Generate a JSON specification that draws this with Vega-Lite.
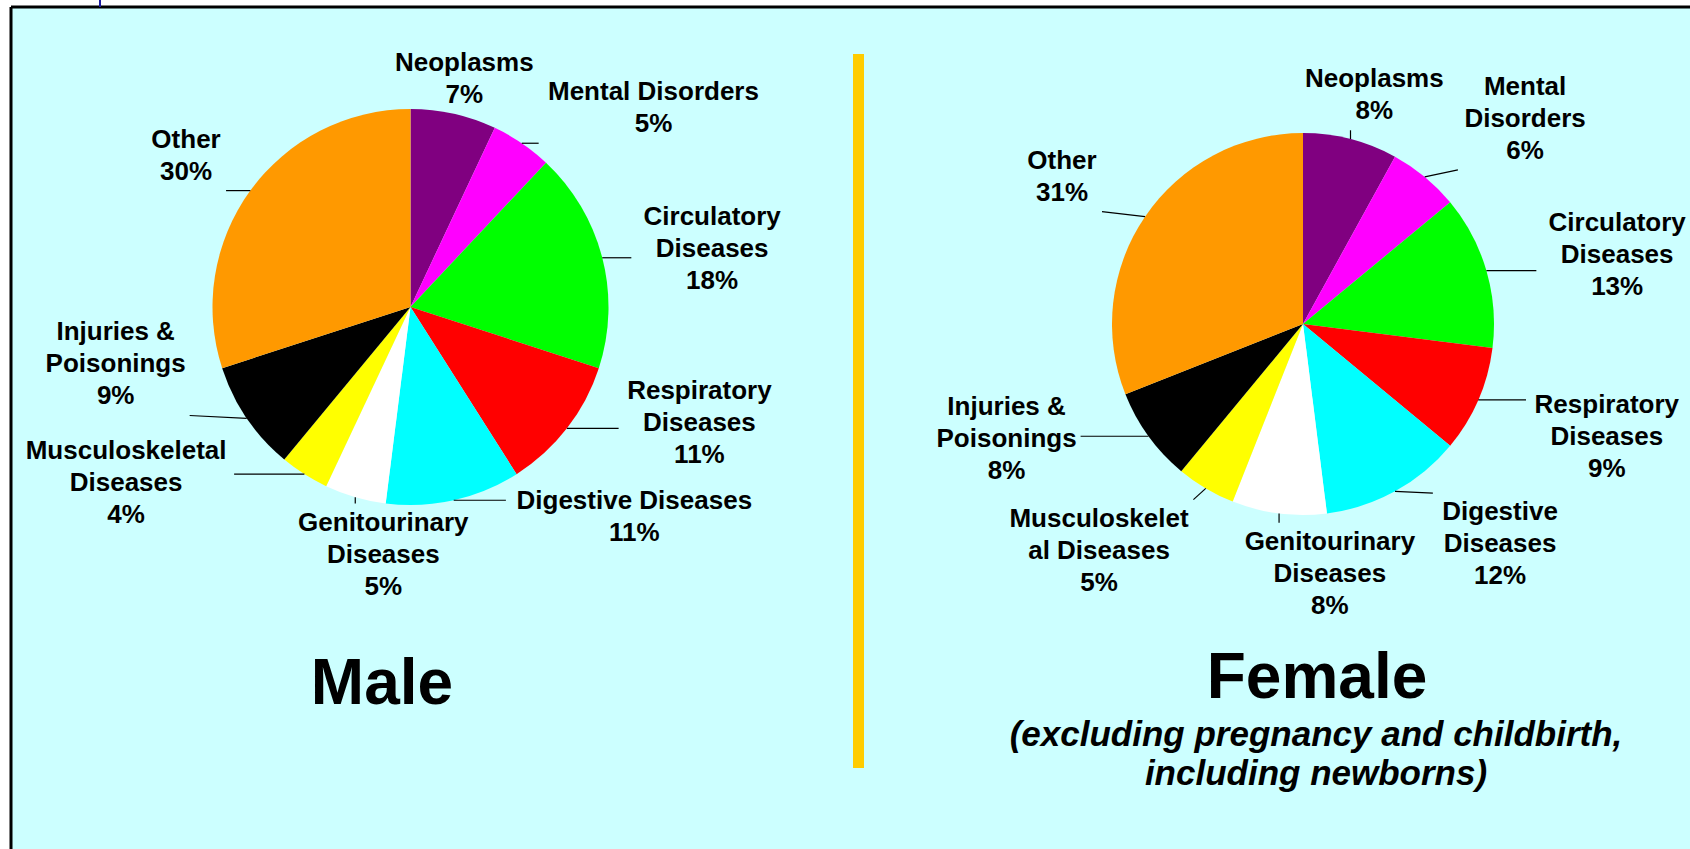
{
  "$schema": "https://vega.github.io/schema/vega-lite/v6.json",
  "width": 1679,
  "height": 842,
  "padding": {"left": 11, "top": 7, "right": 0, "bottom": 0},
  "autosize": {"type": "none"},
  "background": "white",
  "config": {"view": {"fill": "#CCFFFF", "stroke": null}, "font": "Liberation Sans"},
  "resolve": {"scale": {"x": "independent", "y": "independent"}},
  "datasets": {
    "causes": [
      {"sex": "Male", "cause": "Neoplasms", "label": "Neoplasms", "value": 7},
      {"sex": "Male", "cause": "Mental Disorders", "label": "Mental Disorders", "value": 5},
      {"sex": "Male", "cause": "Circulatory Diseases", "label": "Circulatory|Diseases", "value": 18},
      {"sex": "Male", "cause": "Respiratory Diseases", "label": "Respiratory|Diseases", "value": 11},
      {"sex": "Male", "cause": "Digestive Diseases", "label": "Digestive Diseases", "value": 11},
      {"sex": "Male", "cause": "Genitourinary Diseases", "label": "Genitourinary|Diseases", "value": 5},
      {"sex": "Male", "cause": "Musculoskeletal Diseases", "label": "Musculoskeletal|Diseases", "value": 4},
      {"sex": "Male", "cause": "Injuries & Poisonings", "label": "Injuries &|Poisonings", "value": 9},
      {"sex": "Male", "cause": "Other", "label": "Other", "value": 30},
      {"sex": "Female", "cause": "Neoplasms", "label": "Neoplasms", "value": 8},
      {"sex": "Female", "cause": "Mental Disorders", "label": "Mental|Disorders", "value": 6},
      {"sex": "Female", "cause": "Circulatory Diseases", "label": "Circulatory|Diseases", "value": 13},
      {"sex": "Female", "cause": "Respiratory Diseases", "label": "Respiratory|Diseases", "value": 9},
      {"sex": "Female", "cause": "Digestive Diseases", "label": "Digestive|Diseases", "value": 12},
      {"sex": "Female", "cause": "Genitourinary Diseases", "label": "Genitourinary|Diseases", "value": 8},
      {"sex": "Female", "cause": "Musculoskeletal Diseases", "label": "Musculoskelet|al Diseases", "value": 5},
      {"sex": "Female", "cause": "Injuries & Poisonings", "label": "Injuries &|Poisonings", "value": 8},
      {"sex": "Female", "cause": "Other", "label": "Other", "value": 31}
    ],
    "panels": [
      {"sex": "Male", "title": "Male", "note": ""},
      {"sex": "Female", "title": "Female", "note": "(excluding pregnancy and childbirth,|including newborns)"}
    ]
  },
  "layer": [
    {
      "data": {"name": "causes"},
      "transform": [
        {"window": [{"op": "row_number", "as": "k"}], "groupby": ["sex"]},
        {"stack": "value", "groupby": ["sex"], "sort": [{"field": "k", "order": "ascending"}], "as": ["v0", "v1"]},
        {"calculate": "datum.v0/100*2*PI", "as": "a0"},
        {"calculate": "datum.v1/100*2*PI", "as": "a1"},
        {"calculate": "(datum.a0+datum.a1)/2", "as": "mid"},
        {"calculate": "datum.sex=='Male'?198:191", "as": "pr"},
        {"calculate": "datum.sex=='Male'?228:243", "as": "rx"},
        {"calculate": "datum.sex=='Male'?198:200", "as": "ry"},
        {"calculate": "datum.label + '|' + datum.value + '%'", "as": "txt"},
        {"calculate": "length(split(datum.txt,'|'))", "as": "nl"},
        {"calculate": "max(length(split(datum.txt+'||','|')[0]), length(split(datum.txt+'||','|')[1]), length(split(datum.txt+'||','|')[2]))", "as": "mc"},
        {"calculate": "datum.mc*13.6+12", "as": "w"},
        {"calculate": "datum.nl*32+6", "as": "h"},
        {"window": [{"op": "lag", "field": "w", "param": 1, "as": "pw"}, {"op": "lag", "field": "h", "param": 1, "as": "ph"}, {"op": "lead", "field": "w", "param": 1, "as": "nw"}, {"op": "lead", "field": "h", "param": 1, "as": "nh"}], "groupby": ["sex"], "sort": [{"field": "k", "order": "ascending"}], "frame": [null, null]},
        {"calculate": "datum.mid", "as": "th0"},

        {"calculate": "datum.rx*sin(datum.th0)+datum.w/2*clamp((abs(sin(datum.th0))-0.2)*3.33,0,1)*(sin(datum.th0)<0?-1:1)", "as": "cx0"},
        {"calculate": "-datum.ry*cos(datum.th0)-datum.h/2*clamp((abs(cos(datum.th0))-0.2)*3.33,0,1)*(cos(datum.th0)<0?-1:1)", "as": "cy0"},
        {"window": [{"op": "lag", "field": "cx0", "param": 1, "as": "px0"}, {"op": "lag", "field": "cy0", "param": 1, "as": "py0"}, {"op": "lead", "field": "cx0", "param": 1, "as": "nx0"}, {"op": "lead", "field": "cy0", "param": 1, "as": "ny0"}], "groupby": ["sex"], "sort": [{"field": "k", "order": "ascending"}], "frame": [null, null]},
        {"calculate": "datum.px0==null?0:max(0,min(((datum.w+datum.pw)/2-abs(datum.cx0-datum.px0))/max(abs(cos(datum.th0)),0.15),((datum.h+datum.ph)/2-abs(datum.cy0-datum.py0))/max(abs(sin(datum.th0)),0.15)))", "as": "sp0"},
        {"calculate": "datum.nx0==null?0:max(0,min(((datum.w+datum.nw)/2-abs(datum.cx0-datum.nx0))/max(abs(cos(datum.th0)),0.15),((datum.h+datum.nh)/2-abs(datum.cy0-datum.ny0))/max(abs(sin(datum.th0)),0.15)))", "as": "sn0"},
        {"calculate": "datum.th0+0.6*(datum.sp0-datum.sn0)/240", "as": "th1"},

        {"calculate": "datum.rx*sin(datum.th1)+datum.w/2*clamp((abs(sin(datum.th1))-0.2)*3.33,0,1)*(sin(datum.th1)<0?-1:1)", "as": "cx1"},
        {"calculate": "-datum.ry*cos(datum.th1)-datum.h/2*clamp((abs(cos(datum.th1))-0.2)*3.33,0,1)*(cos(datum.th1)<0?-1:1)", "as": "cy1"},
        {"window": [{"op": "lag", "field": "cx1", "param": 1, "as": "px1"}, {"op": "lag", "field": "cy1", "param": 1, "as": "py1"}, {"op": "lead", "field": "cx1", "param": 1, "as": "nx1"}, {"op": "lead", "field": "cy1", "param": 1, "as": "ny1"}], "groupby": ["sex"], "sort": [{"field": "k", "order": "ascending"}], "frame": [null, null]},
        {"calculate": "datum.px1==null?0:max(0,min(((datum.w+datum.pw)/2-abs(datum.cx1-datum.px1))/max(abs(cos(datum.th1)),0.15),((datum.h+datum.ph)/2-abs(datum.cy1-datum.py1))/max(abs(sin(datum.th1)),0.15)))", "as": "sp1"},
        {"calculate": "datum.nx1==null?0:max(0,min(((datum.w+datum.nw)/2-abs(datum.cx1-datum.nx1))/max(abs(cos(datum.th1)),0.15),((datum.h+datum.nh)/2-abs(datum.cy1-datum.ny1))/max(abs(sin(datum.th1)),0.15)))", "as": "sn1"},
        {"calculate": "datum.th1+0.6*(datum.sp1-datum.sn1)/240", "as": "th2"},

        {"calculate": "datum.rx*sin(datum.th2)+datum.w/2*clamp((abs(sin(datum.th2))-0.2)*3.33,0,1)*(sin(datum.th2)<0?-1:1)", "as": "cx2"},
        {"calculate": "-datum.ry*cos(datum.th2)-datum.h/2*clamp((abs(cos(datum.th2))-0.2)*3.33,0,1)*(cos(datum.th2)<0?-1:1)", "as": "cy2"},
        {"window": [{"op": "lag", "field": "cx2", "param": 1, "as": "px2"}, {"op": "lag", "field": "cy2", "param": 1, "as": "py2"}, {"op": "lead", "field": "cx2", "param": 1, "as": "nx2"}, {"op": "lead", "field": "cy2", "param": 1, "as": "ny2"}], "groupby": ["sex"], "sort": [{"field": "k", "order": "ascending"}], "frame": [null, null]},
        {"calculate": "datum.px2==null?0:max(0,min(((datum.w+datum.pw)/2-abs(datum.cx2-datum.px2))/max(abs(cos(datum.th2)),0.15),((datum.h+datum.ph)/2-abs(datum.cy2-datum.py2))/max(abs(sin(datum.th2)),0.15)))", "as": "sp2"},
        {"calculate": "datum.nx2==null?0:max(0,min(((datum.w+datum.nw)/2-abs(datum.cx2-datum.nx2))/max(abs(cos(datum.th2)),0.15),((datum.h+datum.nh)/2-abs(datum.cy2-datum.ny2))/max(abs(sin(datum.th2)),0.15)))", "as": "sn2"},
        {"calculate": "datum.th2+0.6*(datum.sp2-datum.sn2)/240", "as": "th3"},

        {"calculate": "datum.rx*sin(datum.th3)+datum.w/2*clamp((abs(sin(datum.th3))-0.2)*3.33,0,1)*(sin(datum.th3)<0?-1:1)", "as": "cx3"},
        {"calculate": "-datum.ry*cos(datum.th3)-datum.h/2*clamp((abs(cos(datum.th3))-0.2)*3.33,0,1)*(cos(datum.th3)<0?-1:1)", "as": "cy3"},
        {"window": [{"op": "lag", "field": "cx3", "param": 1, "as": "px3"}, {"op": "lag", "field": "cy3", "param": 1, "as": "py3"}, {"op": "lead", "field": "cx3", "param": 1, "as": "nx3"}, {"op": "lead", "field": "cy3", "param": 1, "as": "ny3"}], "groupby": ["sex"], "sort": [{"field": "k", "order": "ascending"}], "frame": [null, null]},
        {"calculate": "datum.px3==null?0:max(0,min(((datum.w+datum.pw)/2-abs(datum.cx3-datum.px3))/max(abs(cos(datum.th3)),0.15),((datum.h+datum.ph)/2-abs(datum.cy3-datum.py3))/max(abs(sin(datum.th3)),0.15)))", "as": "sp3"},
        {"calculate": "datum.nx3==null?0:max(0,min(((datum.w+datum.nw)/2-abs(datum.cx3-datum.nx3))/max(abs(cos(datum.th3)),0.15),((datum.h+datum.nh)/2-abs(datum.cy3-datum.ny3))/max(abs(sin(datum.th3)),0.15)))", "as": "sn3"},
        {"calculate": "datum.th3+0.6*(datum.sp3-datum.sn3)/240", "as": "th4"},

        {"calculate": "datum.rx*sin(datum.th4)+datum.w/2*clamp((abs(sin(datum.th4))-0.2)*3.33,0,1)*(sin(datum.th4)<0?-1:1)", "as": "cx4"},
        {"calculate": "-datum.ry*cos(datum.th4)-datum.h/2*clamp((abs(cos(datum.th4))-0.2)*3.33,0,1)*(cos(datum.th4)<0?-1:1)", "as": "cy4"},
        {"window": [{"op": "lag", "field": "cx4", "param": 1, "as": "px4"}, {"op": "lag", "field": "cy4", "param": 1, "as": "py4"}, {"op": "lead", "field": "cx4", "param": 1, "as": "nx4"}, {"op": "lead", "field": "cy4", "param": 1, "as": "ny4"}], "groupby": ["sex"], "sort": [{"field": "k", "order": "ascending"}], "frame": [null, null]},
        {"calculate": "datum.px4==null?0:max(0,min(((datum.w+datum.pw)/2-abs(datum.cx4-datum.px4))/max(abs(cos(datum.th4)),0.15),((datum.h+datum.ph)/2-abs(datum.cy4-datum.py4))/max(abs(sin(datum.th4)),0.15)))", "as": "sp4"},
        {"calculate": "datum.nx4==null?0:max(0,min(((datum.w+datum.nw)/2-abs(datum.cx4-datum.nx4))/max(abs(cos(datum.th4)),0.15),((datum.h+datum.nh)/2-abs(datum.cy4-datum.ny4))/max(abs(sin(datum.th4)),0.15)))", "as": "sn4"},
        {"calculate": "datum.th4+0.6*(datum.sp4-datum.sn4)/240", "as": "th5"},

        {"calculate": "datum.rx*sin(datum.th5)+datum.w/2*clamp((abs(sin(datum.th5))-0.2)*3.33,0,1)*(sin(datum.th5)<0?-1:1)", "as": "cx5"},
        {"calculate": "-datum.ry*cos(datum.th5)-datum.h/2*clamp((abs(cos(datum.th5))-0.2)*3.33,0,1)*(cos(datum.th5)<0?-1:1)", "as": "cy5"},
        {"window": [{"op": "lag", "field": "cx5", "param": 1, "as": "px5"}, {"op": "lag", "field": "cy5", "param": 1, "as": "py5"}, {"op": "lead", "field": "cx5", "param": 1, "as": "nx5"}, {"op": "lead", "field": "cy5", "param": 1, "as": "ny5"}], "groupby": ["sex"], "sort": [{"field": "k", "order": "ascending"}], "frame": [null, null]},
        {"calculate": "datum.px5==null?0:max(0,min(((datum.w+datum.pw)/2-abs(datum.cx5-datum.px5))/max(abs(cos(datum.th5)),0.15),((datum.h+datum.ph)/2-abs(datum.cy5-datum.py5))/max(abs(sin(datum.th5)),0.15)))", "as": "sp5"},
        {"calculate": "datum.nx5==null?0:max(0,min(((datum.w+datum.nw)/2-abs(datum.cx5-datum.nx5))/max(abs(cos(datum.th5)),0.15),((datum.h+datum.nh)/2-abs(datum.cy5-datum.ny5))/max(abs(sin(datum.th5)),0.15)))", "as": "sn5"},
        {"calculate": "datum.th5+0.6*(datum.sp5-datum.sn5)/240", "as": "th6"},

        {"calculate": "datum.rx*sin(datum.th6)+datum.w/2*clamp((abs(sin(datum.th6))-0.2)*3.33,0,1)*(sin(datum.th6)<0?-1:1)", "as": "cx6"},
        {"calculate": "-datum.ry*cos(datum.th6)-datum.h/2*clamp((abs(cos(datum.th6))-0.2)*3.33,0,1)*(cos(datum.th6)<0?-1:1)", "as": "cy6"},
        {"window": [{"op": "lag", "field": "cx6", "param": 1, "as": "px6"}, {"op": "lag", "field": "cy6", "param": 1, "as": "py6"}, {"op": "lead", "field": "cx6", "param": 1, "as": "nx6"}, {"op": "lead", "field": "cy6", "param": 1, "as": "ny6"}], "groupby": ["sex"], "sort": [{"field": "k", "order": "ascending"}], "frame": [null, null]},
        {"calculate": "datum.px6==null?0:max(0,min(((datum.w+datum.pw)/2-abs(datum.cx6-datum.px6))/max(abs(cos(datum.th6)),0.15),((datum.h+datum.ph)/2-abs(datum.cy6-datum.py6))/max(abs(sin(datum.th6)),0.15)))", "as": "sp6"},
        {"calculate": "datum.nx6==null?0:max(0,min(((datum.w+datum.nw)/2-abs(datum.cx6-datum.nx6))/max(abs(cos(datum.th6)),0.15),((datum.h+datum.nh)/2-abs(datum.cy6-datum.ny6))/max(abs(sin(datum.th6)),0.15)))", "as": "sn6"},
        {"calculate": "datum.th6+0.6*(datum.sp6-datum.sn6)/240", "as": "th7"},

        {"calculate": "datum.rx*sin(datum.th7)+datum.w/2*clamp((abs(sin(datum.th7))-0.2)*3.33,0,1)*(sin(datum.th7)<0?-1:1)", "as": "cx7"},
        {"calculate": "-datum.ry*cos(datum.th7)-datum.h/2*clamp((abs(cos(datum.th7))-0.2)*3.33,0,1)*(cos(datum.th7)<0?-1:1)", "as": "cy7"},
        {"calculate": "datum.cy7-(datum.nl-1)*16", "as": "ty"},
        {"calculate": "sqrt(datum.cx7*datum.cx7+datum.ty*datum.ty)", "as": "lr"},
        {"calculate": "atan2(datum.cx7, -datum.ty)", "as": "lt"}
      ],
      "encoding": {
        "x": {"field": "sex", "type": "nominal", "scale": {"type": "point", "domain": ["Male", "Female"], "range": [399.5, 1292], "padding": 0}, "axis": null},
        "y": {"field": "sex", "type": "nominal", "scale": {"type": "point", "domain": ["Male", "Female"], "range": [300, 317], "padding": 0}, "axis": null}
      },
      "layer": [
        {
          "transform": [{"filter": "datum.sex == 'Male'"}],
          "mark": {"type": "arc", "radius": 198},
          "encoding": {
            "theta": {"field": "a0", "type": "quantitative", "scale": null, "stack": null},
            "theta2": {"field": "a1"},
            "color": {
              "field": "cause", "type": "nominal", "legend": null,
              "scale": {
                "domain": ["Neoplasms", "Mental Disorders", "Circulatory Diseases", "Respiratory Diseases", "Digestive Diseases", "Genitourinary Diseases", "Musculoskeletal Diseases", "Injuries & Poisonings", "Other"],
                "range": ["#800080", "#FF00FF", "#00FF00", "#FF0000", "#00FFFF", "#FFFFFF", "#FFFF00", "#000000", "#FF9900"]
              }
            }
          }
        },
        {
          "transform": [{"filter": "datum.sex == 'Female'"}],
          "mark": {"type": "arc", "radius": 191},
          "encoding": {
            "theta": {"field": "a0", "type": "quantitative", "scale": null, "stack": null},
            "theta2": {"field": "a1"},
            "color": {"field": "cause", "type": "nominal", "legend": null}
          }
        },
        {
          "transform": [
            {"calculate": "[0,1]", "as": "pts"},
            {"flatten": ["pts"], "as": ["pt"]},
            {"calculate": "datum.pr*sin(datum.mid)", "as": "p0x"},
            {"calculate": "-datum.pr*cos(datum.mid)", "as": "p0y"},
            {"calculate": "clamp(datum.p0x, datum.cx7-datum.w/2, datum.cx7+datum.w/2)", "as": "qx"},
            {"calculate": "clamp(datum.p0y, datum.cy7-datum.h/2, datum.cy7+datum.h/2)", "as": "qy"},
            {"calculate": "datum.pt==0?datum.p0x:datum.qx", "as": "lx"},
            {"calculate": "datum.pt==0?datum.p0y:datum.qy", "as": "ly"}
          ],
          "mark": {"type": "line", "color": "black", "strokeWidth": 1.2},
          "encoding": {
            "xOffset": {"field": "lx", "type": "quantitative", "scale": null},
            "yOffset": {"field": "ly", "type": "quantitative", "scale": null},
            "detail": [{"field": "sex", "type": "nominal"}, {"field": "cause", "type": "nominal"}],
            "order": {"field": "pt", "type": "quantitative"}
          }
        },
        {
          "mark": {"type": "text", "fontWeight": "bold", "fontSize": 26, "lineHeight": 32, "lineBreak": "|", "align": "center", "baseline": "middle", "color": "black"},
          "encoding": {
            "theta": {"field": "lt", "type": "quantitative", "scale": null, "stack": null},
            "radius": {"field": "lr", "type": "quantitative", "scale": null},
            "text": {"field": "txt"}
          }
        }
      ]
    },
    {
      "data": {"name": "panels"},
      "mark": {"type": "text", "fontWeight": "bold", "fontSize": 64, "baseline": "alphabetic", "color": "black"},
      "encoding": {
        "x": {"field": "sex", "type": "nominal", "scale": {"type": "point", "domain": ["Male", "Female"], "range": [371, 1306], "padding": 0}, "axis": null},
        "y": {"field": "sex", "type": "nominal", "scale": {"type": "point", "domain": ["Male", "Female"], "range": [697, 691], "padding": 0}, "axis": null},
        "text": {"field": "title"}
      }
    },
    {
      "data": {"name": "panels"},
      "transform": [{"filter": "datum.note != ''"}],
      "mark": {"type": "text", "fontWeight": "bold", "fontStyle": "italic", "fontSize": 35, "lineHeight": 39, "lineBreak": "|", "baseline": "alphabetic", "color": "black"},
      "encoding": {
        "x": {"field": "sex", "type": "nominal", "scale": {"type": "point", "domain": ["Male", "Female"], "range": [371, 1305], "padding": 0}, "axis": null},
        "y": {"field": "sex", "type": "nominal", "scale": {"type": "point", "domain": ["Male", "Female"], "range": [739, 739], "padding": 0}, "axis": null},
        "text": {"field": "note"}
      }
    },
    {
      "data": {"values": [{}]},
      "mark": {"type": "rule", "color": "black", "strokeWidth": 3},
      "encoding": {"y": {"value": 0}}
    },
    {
      "data": {"values": [{}]},
      "mark": {"type": "rule", "color": "black", "strokeWidth": 3},
      "encoding": {"x": {"value": 0}}
    },
    {
      "data": {"values": [{}]},
      "mark": {"type": "rule", "color": "#FFCC00", "strokeWidth": 11},
      "encoding": {"x": {"value": 847.5}, "y": {"value": 47}, "y2": {"value": 761}}
    },
    {
      "data": {"values": [{}]},
      "mark": {"type": "rule", "color": "#1A1AA0", "strokeWidth": 2},
      "encoding": {"x": {"value": 89}, "y": {"value": -7}, "y2": {"value": 0}}
    }
  ]
}
